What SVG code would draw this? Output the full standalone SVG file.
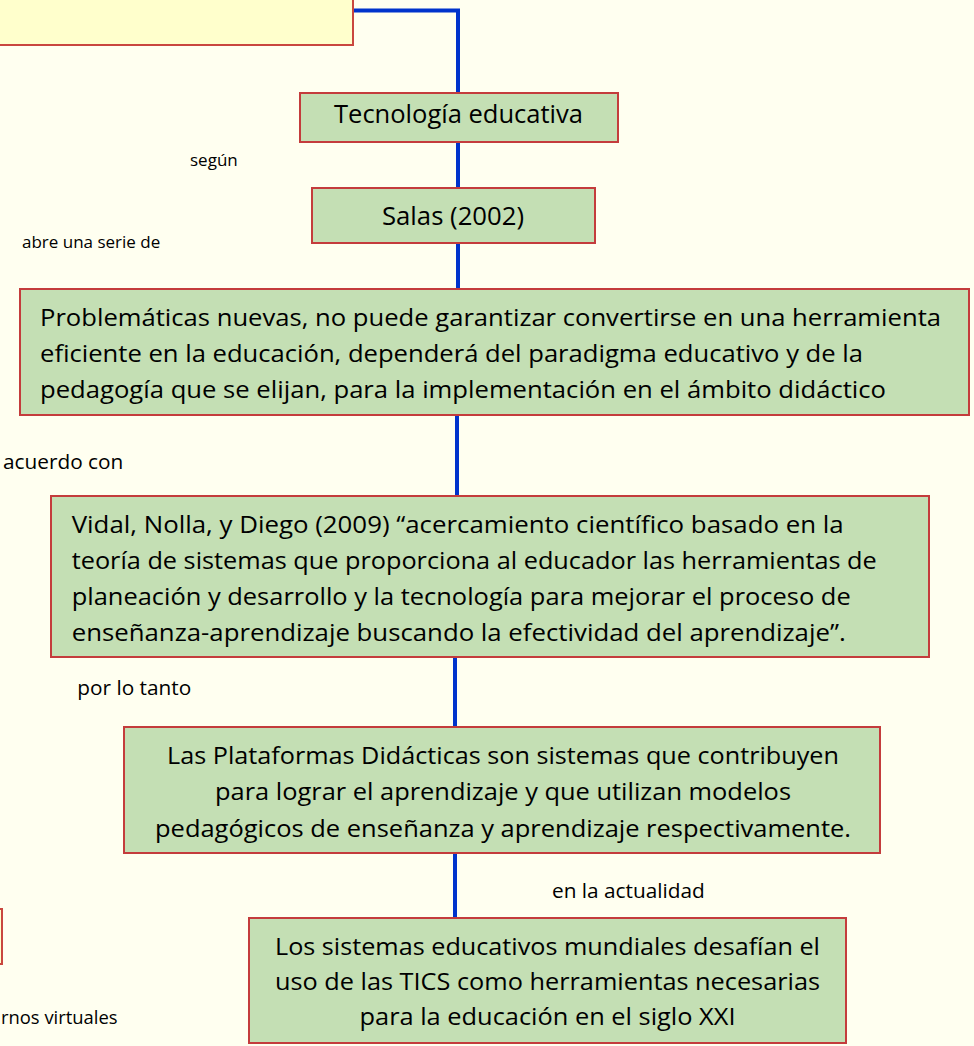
<svg xmlns="http://www.w3.org/2000/svg" width="974" height="1046" viewBox="0 0 974 1046">
<style>
.bg{fill:#FFFFF0}
.box{fill:#C4DFB4;stroke:#C43C3C;stroke-width:2}
.ybox{fill:#FFFFCC;stroke:#C9473F;stroke-width:2}
.conn{fill:none;stroke:#0033CC;stroke-width:4}
text{font-family:"Open Sans","Noto Sans","Liberation Sans",sans-serif;fill:#000}
.big{font-size:25.5px}
.mid{font-size:23px}
.lbl{font-size:20.8px}
.sml{font-size:17px}
.vir{font-size:18.4px}
</style>
<rect class="bg" x="0" y="0" width="974" height="1046"/>
<g id="connectors">
<path class="conn" d="M353,10.5 H458 V93"/>
<path class="conn" d="M458,142 V188"/>
<path class="conn" d="M458,243 V289"/>
<path class="conn" d="M457,415 V496"/>
<path class="conn" d="M455,657 V727"/>
<path class="conn" d="M455,853 V918"/>
</g>
<g id="node-top">
<rect class="ybox" x="-10" y="-60" width="363" height="105"/>
</g>
<g id="node-left">
<rect class="ybox" x="-100" y="909" width="102" height="55"/>
</g>
<g id="node-tecnologia">
<rect class="box" x="300" y="93" width="318" height="49"/>
<text class="big" x="458.5" y="123.3" text-anchor="middle" textLength="249" lengthAdjust="spacingAndGlyphs">Tecnología educativa</text>
</g>
<g id="node-salas">
<rect class="box" x="312" y="188" width="283" height="55"/>
<text class="big" x="453" y="225" text-anchor="middle" textLength="142" lengthAdjust="spacingAndGlyphs">Salas (2002)</text>
</g>
<g id="node-problematicas">
<rect class="box" x="20" y="289" width="949" height="126"/>
<text class="mid" x="40" y="325.7" textLength="901" lengthAdjust="spacingAndGlyphs">Problemáticas nuevas, no  puede garantizar convertirse en una herramienta</text>
<text class="mid" x="40" y="361.7" textLength="823" lengthAdjust="spacingAndGlyphs">eficiente en la educación, dependerá del paradigma educativo y de la</text>
<text class="mid" x="40" y="397.5" textLength="846" lengthAdjust="spacingAndGlyphs">pedagogía que se elijan, para la implementación en el ámbito didáctico</text>
</g>
<g id="node-vidal">
<rect class="box" x="51" y="496" width="878" height="161"/>
<text class="mid" x="71.7" y="533.3" textLength="772" lengthAdjust="spacingAndGlyphs">Vidal, Nolla, y Diego (2009) “acercamiento científico basado en la</text>
<text class="mid" x="71.7" y="569" textLength="805" lengthAdjust="spacingAndGlyphs">teoría de sistemas que proporciona al educador las herramientas de</text>
<text class="mid" x="71.7" y="605" textLength="779" lengthAdjust="spacingAndGlyphs">planeación y desarrollo y la tecnología para mejorar el proceso de</text>
<text class="mid" x="71.7" y="640.5" textLength="774" lengthAdjust="spacingAndGlyphs">enseñanza-aprendizaje  buscando la efectividad del aprendizaje”.</text>
</g>
<g id="node-plataformas">
<rect class="box" x="124" y="727" width="756" height="126"/>
<text class="mid" x="503" y="764" text-anchor="middle" textLength="672" lengthAdjust="spacingAndGlyphs">Las Plataformas Didácticas son sistemas que contribuyen</text>
<text class="mid" x="503" y="800" text-anchor="middle" textLength="576" lengthAdjust="spacingAndGlyphs">para lograr el aprendizaje y que utilizan modelos</text>
<text class="mid" x="503" y="836.7" text-anchor="middle" textLength="696" lengthAdjust="spacingAndGlyphs">pedagógicos de enseñanza y aprendizaje respectivamente.</text>
</g>
<g id="node-sistemas">
<rect class="box" x="249" y="918" width="597" height="125"/>
<text class="mid" x="547.5" y="955" text-anchor="middle" textLength="545" lengthAdjust="spacingAndGlyphs">Los sistemas educativos mundiales desafían el</text>
<text class="mid" x="547.5" y="990" text-anchor="middle" textLength="545" lengthAdjust="spacingAndGlyphs">uso de las TICS como herramientas necesarias</text>
<text class="mid" x="547.5" y="1025" text-anchor="middle" textLength="376" lengthAdjust="spacingAndGlyphs">para la educación en el siglo XXI</text>
</g>
<g id="labels">
<text class="sml" x="190" y="166">según</text>
<text class="sml" x="22" y="248">abre una serie de</text>
<text class="lbl" x="3" y="469">acuerdo con</text>
<text class="lbl" x="77.3" y="695">por lo tanto</text>
<text class="lbl" x="552" y="898.3">en la actualidad</text>
<text class="vir" x="1" y="1024">rnos virtuales</text>
</g>
</svg>
